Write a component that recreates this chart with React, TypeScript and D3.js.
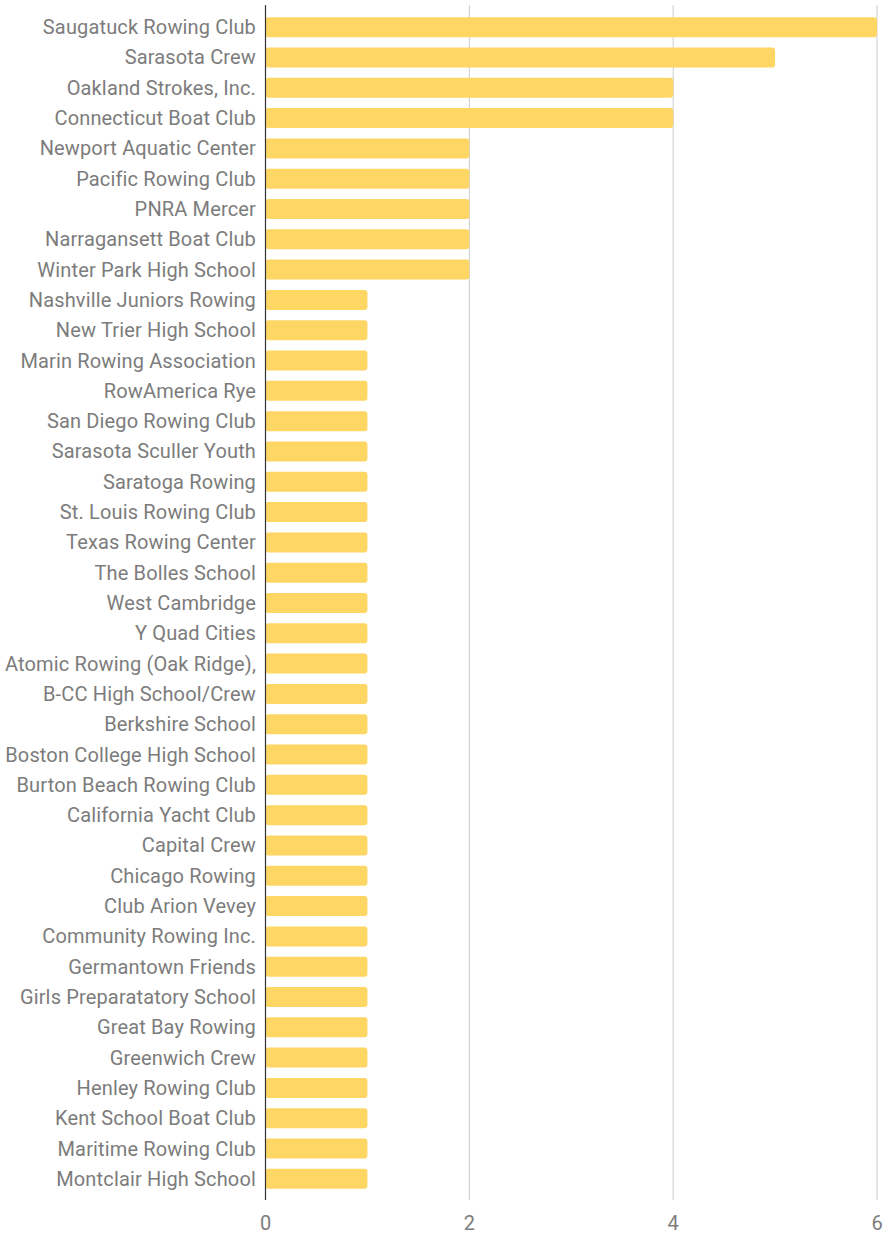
import React from "react";
import * as d3 from "d3";

const categories = [
  "Saugatuck Rowing Club","Sarasota Crew","Oakland Strokes, Inc.","Connecticut Boat Club",
  "Newport Aquatic Center","Pacific Rowing Club","PNRA Mercer","Narragansett Boat Club",
  "Winter Park High School","Nashville Juniors Rowing","New Trier High School","Marin Rowing Association",
  "RowAmerica Rye","San Diego Rowing Club","Sarasota Sculler Youth","Saratoga Rowing",
  "St. Louis Rowing Club","Texas Rowing Center","The Bolles School","West Cambridge",
  "Y Quad Cities","Atomic Rowing (Oak Ridge),","B-CC High School/Crew","Berkshire School",
  "Boston College High School","Burton Beach Rowing Club","California Yacht Club","Capital Crew",
  "Chicago Rowing","Club Arion Vevey","Community Rowing Inc.","Germantown Friends",
  "Girls Preparatatory School","Great Bay Rowing","Greenwich Crew","Henley Rowing Club",
  "Kent School Boat Club","Maritime Rowing Club","Montclair High School",
];
const values = [6,5,4,4,2,2,2,2,2,1,1,1,1,1,1,1,1,1,1,1,1,1,1,1,1,1,1,1,1,1,1,1,1,1,1,1,1,1,1];
const xTicks = [0, 2, 4, 6];

export default function App() {
  const W = 885, H = 1234;
  const x = d3.scaleLinear().domain([0, 6]).range([265.5, 877]);
  const y = d3.scaleBand<string>().domain(categories).range([12, 1194]).paddingInner(0.34).paddingOuter(0.17);
  const font = "Roboto, 'Noto Sans', sans-serif";
  return (
    <svg width={W} height={H} style={{ position: "absolute", left: 0, top: 0, background: "#fff" }}>
      {xTicks.filter(t => t > 0).map(t => (
        <line key={"g" + t} x1={x(t)} x2={x(t)} y1={5} y2={1200} stroke="#cccccc" strokeWidth={1} />
      ))}
      {categories.map((c, i) => (
        <rect key={c} x={x(0)} y={y(c)!} width={x(values[i]) - x(0)} height={y.bandwidth()} rx={3} ry={3} fill="#fdd663" />
      ))}
      <line x1={x(0)} x2={x(0)} y1={5} y2={1200} stroke="#333333" strokeWidth={1.2} />
      {categories.map(c => (
        <text key={"l" + c} x={256} y={y(c)! + y.bandwidth() / 2} dy="0.35em" textAnchor="end"
          fontFamily={font} fontWeight={400} fontSize={20} letterSpacing={0.15} fill="#7c7c7c">{c}</text>
      ))}
      {xTicks.map(t => (
        <text key={"t" + t} x={x(t)} y={1223} dy="0.35em" textAnchor="middle"
          fontFamily={font} fontWeight={400} fontSize={20} fill="#7c7c7c">{t}</text>
      ))}
    </svg>
  );
}
